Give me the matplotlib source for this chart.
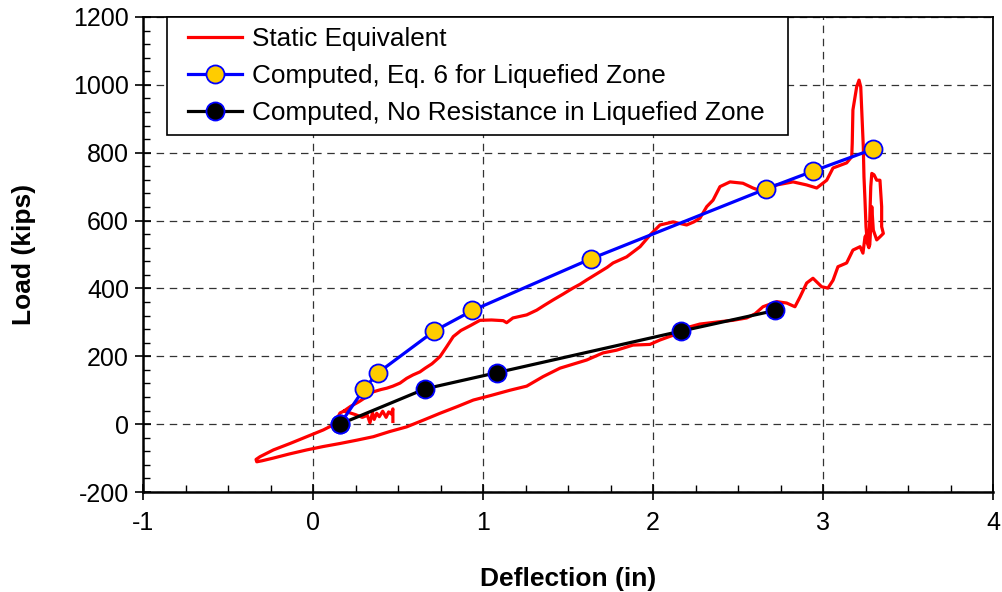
import numpy as np
import matplotlib
matplotlib.use("Agg")
import matplotlib.pyplot as plt
from matplotlib.ticker import MultipleLocator
from matplotlib.legend_handler import HandlerLine2D

plt.rcParams['font.family'] = ['Liberation Sans', 'DejaVu Sans']
plt.rcParams['axes.unicode_minus'] = False

# Measured static-equivalent load/deflection loop (in, kips)
static_defl = [0.47, 0.47, 0.46, 0.445, 0.43, 0.41, 0.39, 0.375, 0.36, 0.35, 0.335, 0.32,
               0.29, 0.25, 0.20,
               0.18, 0.22, 0.27, 0.316, 0.353, 0.40, 0.434, 0.47, 0.512, 0.551, 0.588,
               0.629, 0.66, 0.70, 0.747, 0.786, 0.825, 0.87, 0.924, 0.982, 1.05, 1.119,
               1.139, 1.176, 1.257, 1.316, 1.36, 1.412, 1.47, 1.529, 1.57, 1.61, 1.688,
               1.73, 1.765, 1.845, 1.89, 1.924, 1.982, 2.041, 2.118, 2.198, 2.24, 2.276,
               2.316, 2.353, 2.394, 2.453, 2.529, 2.588, 2.647, 2.728, 2.824, 2.904,
               2.963, 3.022, 3.059, 3.139, 3.169,
               3.172, 3.176, 3.198, 3.212, 3.222, 3.228, 3.237, 3.241, 3.247, 3.253,
               3.261, 3.27,
               3.281, 3.287, 3.30, 3.316, 3.335, 3.34, 3.345, 3.345, 3.355, 3.335, 3.316,
               3.296, 3.287, 3.283, 3.275, 3.262,
               3.257, 3.247, 3.235, 3.218, 3.176, 3.139, 3.088, 3.059, 3.029, 2.992,
               2.941, 2.904, 2.865, 2.835, 2.786, 2.728, 2.647, 2.60, 2.551, 2.47, 2.394,
               2.276, 2.218, 2.159, 2.118, 2.041, 1.982, 1.882, 1.786, 1.706, 1.61,
               1.551, 1.453, 1.353, 1.257, 1.159, 1.05, 0.943, 0.85, 0.747, 0.65, 0.551,
               0.45, 0.355, 0.26, 0.159, 0.06, -0.037, -0.14, -0.233, -0.30, -0.331,
               -0.335, -0.312, -0.233, -0.135, -0.037, 0.061, 0.12, 0.14, 0.159, 0.18]
static_load = [8, 45, 30, 36, 20, 38, 22, 32, 14, 34, 4, 26,
               20, 28, 36,
               38, 52, 66, 81, 95, 102, 106, 112, 121, 135, 145,
               154, 165, 178, 199, 228, 258, 276, 290, 306, 307, 305,
               299, 313, 322, 336, 350, 366, 383, 401, 412, 425, 449,
               462, 475, 493, 510, 523, 557, 587, 596, 587, 596, 607,
               641, 660, 700, 714, 710, 696, 685, 705, 714, 705,
               696, 719, 755, 770, 788,
               828, 926, 994, 1014, 994, 926, 818, 729, 660, 582,
               533, 520,
               700, 739, 735, 719, 719, 680, 641, 582, 562, 552, 543,
               572, 641, 600, 528, 540,
               560, 552, 504, 523, 513, 475, 464, 424, 401, 405,
               430, 416, 375, 346, 357, 361, 346, 325, 313, 306, 302,
               295, 287, 280, 262, 248, 235, 233, 218, 210, 189,
               180, 165, 140, 112, 100, 85, 71, 52, 32, 12, -8,
               -22, -37, -47, -57, -66, -76, -88, -100, -108, -111,
               -104, -96, -76, -57, -37, -17, -2, 15, 33, 38]

# Computed response, Eq. 6 used for the liquefied zone
eq6_defl = [0.159, 0.30, 0.384, 0.712, 0.938, 1.633, 2.663, 2.943, 3.292]
eq6_load = [0, 104, 152, 274, 335, 487, 693, 746, 810]

# Computed response, no resistance in the liquefied zone
nores_defl = [0.159, 0.659, 1.084, 2.163, 2.718]
nores_load = [0, 104, 152, 274, 335]

fig = plt.figure(figsize=(10.03, 5.92), dpi=100)
ax = fig.add_axes([143/1003, 100/592, 850/1003, 475/592])

ax.plot(static_defl, static_load, color='#ff0000', lw=2.3, zorder=3,
        label='Static Equivalent')
ax.plot(eq6_defl, eq6_load, color='#0000ff', lw=2.3, marker='o', ms=13,
        mfc='#ffcc00', mec='#0000ff', mew=1.3, zorder=4,
        label='Computed, Eq. 6 for Liquefied Zone')
ax.plot(nores_defl, nores_load, color='black', lw=2.3, marker='o', ms=13,
        mfc='black', mec='#0000ff', mew=1.3, zorder=5,
        label='Computed, No Resistance in Liquefied Zone')

ax.set_xlim(-1, 4)
ax.set_ylim(-200, 1200)
ax.xaxis.set_major_locator(MultipleLocator(1))
ax.xaxis.set_minor_locator(MultipleLocator(0.25))
ax.yaxis.set_major_locator(MultipleLocator(200))
ax.yaxis.set_minor_locator(MultipleLocator(40))

ax.grid(True, which='major', color='#333333', lw=0.9, linestyle=(0, (6, 4.5)))
ax.set_axisbelow(True)

ax.tick_params(which='major', direction='inout', length=12, width=1.2,
               labelsize=18, pad=4, colors='black')
ax.tick_params(which='minor', direction='in', length=5, width=1.0)
ax.tick_params(axis='x', pad=8)

for side in ['left', 'bottom']:
    ax.spines[side].set_linewidth(1.8)
for side in ['top', 'right']:
    ax.spines[side].set_linewidth(1.3)

ax.set_xlabel('Deflection (in)', fontsize=19, fontweight='bold', labelpad=23)
ax.set_ylabel('Load (kips)', fontsize=19, fontweight='bold', labelpad=27)

# handles start a little in from the frame
handler = HandlerLine2D(numpoints=1, xpad=0.42)
leg = ax.legend(loc='upper left', bbox_to_anchor=(0.0282, 0.0, 0.7306, 1.0),
                mode='expand', borderaxespad=0, fontsize=18.8,
                handler_map={matplotlib.lines.Line2D: handler},
                handlelength=2.5, handletextpad=0.38, labelspacing=0.5,
                borderpad=0.38, fancybox=False, framealpha=1, edgecolor='black')
leg.get_frame().set_linewidth(1.2)

fig.savefig('out.png', dpi=100)
